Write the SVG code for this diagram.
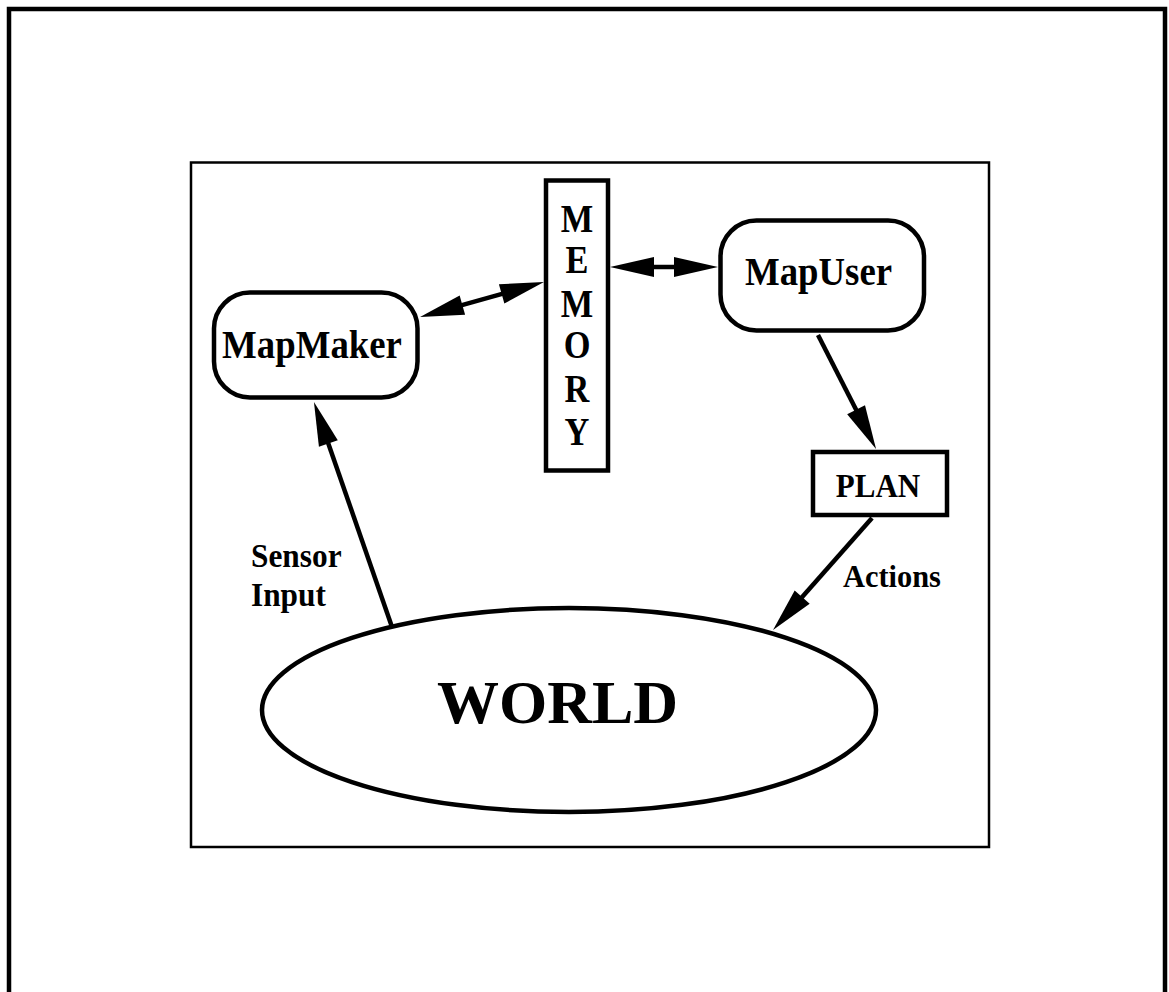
<svg xmlns="http://www.w3.org/2000/svg" width="1169" height="992" viewBox="0 0 1169 992">
  <style>
    .frame { fill: none; stroke: #000; }
    .node { fill: #fff; stroke: #000; stroke-width: 4.5; }
    .lbl { font-family: "Liberation Serif", "Times New Roman", serif; font-weight: bold; fill: #000; }
    .edge { stroke: #000; stroke-width: 4.5; fill: none; }
  </style>
  <defs>
    <marker id="head" markerUnits="userSpaceOnUse" markerWidth="46" markerHeight="22"
            refX="6" refY="10" orient="auto-start-reverse" overflow="visible">
      <path d="M0,0 L44,10 L0,20 z" fill="#000"/>
    </marker>
  </defs>

  <rect width="1169" height="992" fill="#fff"/>

  <!-- page border and diagram panel -->
  <rect class="frame" x="9" y="9" width="1156" height="1000" stroke-width="4.5"/>
  <rect class="frame" x="191" y="162.5" width="798" height="684.5" stroke-width="2.5"/>

  <g id="mapmaker">
    <rect class="node" x="214" y="292.5" width="203.5" height="105" rx="36" ry="36"/>
    <text class="lbl" transform="translate(312 358) scale(0.92 1)" font-size="40" text-anchor="middle">MapMaker</text>
  </g>

  <g id="memory">
    <rect class="node" x="546" y="180.5" width="62" height="290"/>
    <g class="lbl" font-size="40" text-anchor="middle">
      <text transform="translate(577 232) scale(0.86 1)">M</text>
      <text transform="translate(577 273) scale(0.86 1)">E</text>
      <text transform="translate(577 317) scale(0.86 1)">M</text>
      <text transform="translate(577 358) scale(0.86 1)">O</text>
      <text transform="translate(577 402) scale(0.86 1)">R</text>
      <text transform="translate(577 445) scale(0.86 1)">Y</text>
    </g>
  </g>

  <g id="mapuser">
    <rect class="node" x="720.5" y="220.5" width="203.5" height="110" rx="36" ry="36"/>
    <text class="lbl" transform="translate(818.5 285) scale(0.92 1)" font-size="40" text-anchor="middle">MapUser</text>
  </g>

  <g id="plan">
    <rect class="node" x="813" y="452" width="134" height="63"/>
    <text class="lbl" transform="translate(878 497) scale(0.94 1)" font-size="33" text-anchor="middle">PLAN</text>
  </g>

  <g id="world">
    <ellipse class="node" cx="569" cy="710" rx="307" ry="102"/>
    <text class="lbl" x="557.5" y="723" font-size="62" text-anchor="middle">WORLD</text>
  </g>

  <g id="connectors">
    <!-- MapMaker <-> MEMORY -->
    <line class="edge" x1="456.6" y1="306.7" x2="507.4" y2="292.3" marker-start="url(#head)" marker-end="url(#head)"/>
    <!-- MEMORY <-> MapUser -->
    <line class="edge" x1="648" y1="267" x2="680" y2="267" marker-start="url(#head)" marker-end="url(#head)"/>
    <!-- MapUser -> PLAN -->
    <line class="edge" x1="818" y1="335" x2="858.8" y2="415.1" marker-end="url(#head)"/>
    <!-- PLAN -> WORLD -->
    <line class="edge" x1="872" y1="518" x2="798.2" y2="601.5" marker-end="url(#head)"/>
    <!-- WORLD -> MapMaker -->
    <line class="edge" x1="392" y1="627" x2="326.4" y2="437.9" marker-end="url(#head)"/>
    <text class="lbl" transform="translate(251 567) scale(0.95 1)" font-size="33">Sensor</text>
    <text class="lbl" transform="translate(251 606) scale(0.95 1)" font-size="33">Input</text>
    <text class="lbl" transform="translate(843 587) scale(0.95 1)" font-size="32">Actions</text>
  </g>
</svg>
